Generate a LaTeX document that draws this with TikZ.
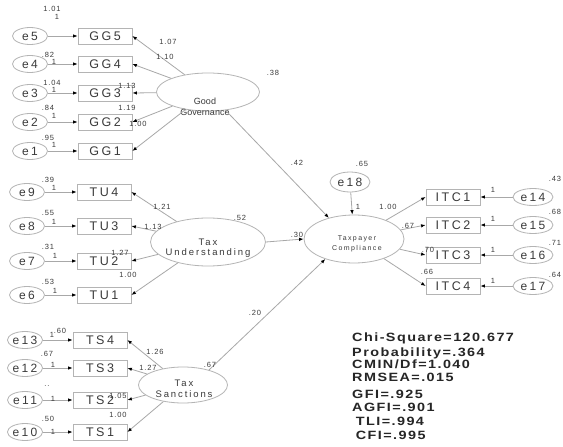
\documentclass[tikz,border=0pt]{standalone}
\usepackage{fontspec}
\setmainfont{Liberation Sans}
\newfontfamily\amos[LetterSpace=20]{Liberation Sans}
\newfontfamily\amosnum[LetterSpace=12]{Liberation Sans}
\newfontfamily\amosfit[LetterSpace=10]{Liberation Sans}
\usetikzlibrary{arrows.meta,shapes.geometric}
\definecolor{linegray}{HTML}{A8A8A8}
\definecolor{boxgray}{HTML}{B4B4B4}
\definecolor{txtgray}{HTML}{3A3A3A}

\begin{document}
\begin{tikzpicture}[x=1pt,y=-1pt,
  obs/.style={draw=boxgray,line width=0.8pt,minimum width=54pt,minimum height=16pt,
    inner sep=0pt,font=\amos\fontsize{12.5}{12.5}\selectfont,text=txtgray},
  err/.style={ellipse,draw=boxgray,line width=0.8pt,minimum width=35pt,minimum height=17pt,
    inner sep=0pt,font=\amos\fontsize{12}{12}\selectfont,text=txtgray},
  lat/.style={ellipse,draw=boxgray,line width=0.8pt,inner sep=0pt},
  lattxt/.style={align=center,inner sep=0pt,text=txtgray},
  arr/.style={draw=linegray,line width=0.8pt,-{Latex[length=4.5pt,width=3.5pt,color=black]}},
  num/.style={font=\amosnum\fontsize{7.5}{7.5}\selectfont,text=txtgray,inner sep=0pt},
  fitline/.style={font=\amosfit\bfseries\fontsize{12}{12}\selectfont,text=black!85,
    inner sep=0pt,anchor=base west,transform shape},
]

% ============================================================
% 画布
% ============================================================

\fill[white] (0,0) rectangle (563,447);
\useasboundingbox (0,0) rectangle (563,447);

% ============================================================
% 潜变量
% ============================================================

\node[lat,minimum width=103pt,minimum height=38pt] (GG) at (208,92) {};
\node[lattxt,font=\fontsize{9}{11}\selectfont] (GGt) at (205,107) {Good\\Governance};

\node[lat,minimum width=115pt,minimum height=48pt] (TU) at (208,242) {};
\node[lattxt,font=\amos\fontsize{9.5}{10.5}\selectfont] (TUt) at (208,248) {Tax\\Understanding};

\node[lat,minimum width=89pt,minimum height=36pt] (TS) at (183,385) {};
\node[lattxt,font=\amos\fontsize{9.5}{11}\selectfont] (TSt) at (184,389) {Tax\\Sanctions};

\node[lat,minimum width=100pt,minimum height=48pt] (TC) at (354,239) {};
\node[lattxt,font=\amos\fontsize{7}{10}\selectfont] (TCt) at (357,244) {Taxpayer\\Compliance};

\node[err,minimum width=40pt,minimum height=20pt] (e18) at (350,182) {e18};
\draw[arr] (e18) -- (TC);

% ============================================================
% 观测变量与误差项
% ============================================================

\foreach \i/\y in {5/36,4/64,3/93,2/122,1/151} {
  \node[obs] (GG\i) at (105,\y) {GG\i};
  \node[err] (e\i) at (30,\y) {e\i};
  \draw[arr] (e\i) -- (GG\i);
  \draw[arr] (GG) -- (GG\i.east);
}

\foreach \i/\e/\y in {4/9/192,3/8/226,2/7/261,1/6/295} {
  \node[obs] (TU\i) at (104,\y) {TU\i};
  \node[err] (e\e) at (27,\y) {e\e};
  \draw[arr] (e\e) -- (TU\i);
  \draw[arr] (TU) -- (TU\i.east);
}

\foreach \i/\e/\y in {4/13/340,3/12/368,2/11/400,1/10/432} {
  \node[obs] (TS\i) at (100,\y) {TS\i};
  \node[err] (e\e) at (25,\y) {e\e};
  \draw[arr] (e\e) -- (TS\i);
  \draw[arr] (TS) -- (TS\i.east);
}

\foreach \i/\e/\y in {1/14/197,2/15/225,3/16/255,4/17/286} {
  \node[obs] (ITC\i) at (453,\y) {ITC\i};
  \node[err,minimum width=40pt] (e\e) at (533,\y) {e\e};
  \draw[arr] (e\e) -- (ITC\i.east);
  \draw[arr] (TC) -- (ITC\i.west);
}

% ============================================================
% 结构路径
% ============================================================

\draw[arr] (GG) -- (TC.140);
\draw[arr] (TU.east) -- (TC.west);
\draw[arr] (TS.30) -- (TC.215);

% ============================================================
% 参数估计值
% ============================================================

\foreach [count=\k] \x/\y/\t in {
  52/9/1.01, 57/17/1, 48/55/.82, 54/62/1, 52/83/1.04, 54/90/1,
  48/108/.84, 54/116/1, 48/138/.95, 54/145/1,
  168/42/1.07, 165/57/1.10, 127/86/1.13, 127/108/1.19, 138/124/1.00,
  273/73/.38, 297/163/.42,
  48/180/.39, 54/188/1, 48/213/.55, 54/222/1, 48/247/.31, 55/256/1,
  48/282/.53, 55/291/1,
  162/207/1.21, 153/227/1.13, 120/253/1.27, 128/275/1.00,
  240/218/.52, 297/235/.30,
  60/331/.60, 52/335/1, 47/354/.67, 53/365/1, 47/386/.., 53/399/1,
  48/419/.50, 53/432/1,
  155/352/1.26, 148/368/1.27, 118/396/1.05, 118/415/1.00,
  210/365/.67, 255/313/.20,
  362/164/.65, 358/207/1, 388/207/1.00, 408/226/.67, 428/250/.70, 427/272/.66,
  555/179/.43, 493/190/1, 555/212/.68, 493/219/1,
  555/243/.71, 493/250/1, 555/275/.64, 493/281/1} {
  \node[num] (v\k) at (\x,\y) {\t};
}

% ============================================================
% 拟合指标
% ============================================================

\begin{scope}[shift={(352,0)},xscale=1.2]
  \foreach [count=\k] \dx/\y/\t in {0/341/Chi-Square=120.677, 0/356/Probability=.364,
    0/368/{CMIN/Df=1.040}, 0/381/RMSEA=.015, 0/398/GFI=.925, 0/411/AGFI=.901,
    3/425/TLI=.994, 3/439/CFI=.995} {
    \node[fitline] (fit\k) at (\dx,\y) {\t};
  }
\end{scope}

\end{tikzpicture}
\end{document}
